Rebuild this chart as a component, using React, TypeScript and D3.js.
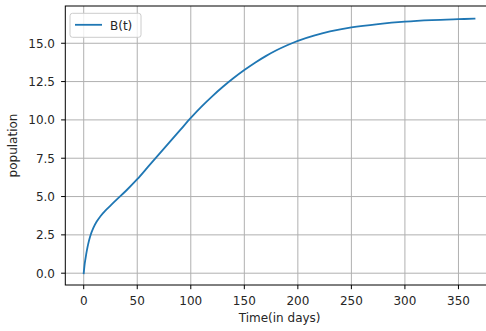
import React from "react";
import * as d3 from "d3";

const days: number[] = [0, 1, 2, 3, 4, 6, 9, 12, 16, 20, 25, 30, 40, 50, 60, 70, 80, 90, 100, 110, 120, 130, 140, 150, 160, 170, 180, 190, 200, 215, 230, 250, 275, 300, 325, 350, 365];
const population: number[] = [0, 0.65, 1.1, 1.5, 1.85, 2.4, 2.95, 3.35, 3.75, 4.07, 4.41, 4.75, 5.41, 6.13, 6.93, 7.73, 8.53, 9.33, 10.13, 10.87, 11.54, 12.16, 12.73, 13.25, 13.73, 14.16, 14.54, 14.87, 15.16, 15.5, 15.77, 16.03, 16.25, 16.41, 16.51, 16.57, 16.6];
const xTicks: number[] = [0, 50, 100, 150, 200, 250, 300, 350];
const yTicks: number[] = [0, 2.5, 5, 7.5, 10, 12.5, 15];
const seriesName = "B(t)";
const xLabel = "Time(in days)";
const yLabel = "population";

const W = 486;
const H = 331;
const left = 65.3;
const right = 494;
const top = 6;
const bottom = 285;
const font = "'DejaVu Sans', sans-serif";

export default function App() {
  const x = d3.scaleLinear().domain([-17.2, 383.2]).range([left, right]);
  const y = d3.scaleLinear().domain([-0.77, 17.43]).range([bottom, top]);
  const pts: [number, number][] = days.map((d, i) => [d, population[i]]);
  const line = d3
    .line<[number, number]>()
    .x((d) => x(d[0]))
    .y((d) => y(d[1]))
    .curve(d3.curveCatmullRom.alpha(0.5));

  return (
    <svg
      width={W}
      height={H}
      style={{ position: "absolute", left: 0, top: 0, background: "#fff" }}
      fontFamily={font}
    >
      <rect x={0} y={0} width={W} height={H} fill="#fff" />
      {xTicks.map((t) => (
        <line key={"gx" + t} x1={x(t)} x2={x(t)} y1={top} y2={bottom} stroke="#b0b0b0" strokeWidth={1} />
      ))}
      {yTicks.map((t) => (
        <line key={"gy" + t} x1={left} x2={right} y1={y(t)} y2={y(t)} stroke="#b0b0b0" strokeWidth={1} />
      ))}
      <path d={line(pts) || ""} fill="none" stroke="#1f77b4" strokeWidth={1.8} strokeLinecap="square" strokeLinejoin="round" />
      <rect x={left} y={top} width={right - left} height={bottom - top} fill="none" stroke="#000" strokeWidth={1} />
      {xTicks.map((t) => (
        <g key={"xt" + t}>
          <line x1={x(t)} x2={x(t)} y1={bottom} y2={bottom + 4.2} stroke="#000" strokeWidth={1} />
          <text x={x(t)} y={305} textAnchor="middle" fontSize={12} fill="#262626">
            {t}
          </text>
        </g>
      ))}
      {yTicks.map((t) => (
        <g key={"yt" + t}>
          <line x1={left - 4.2} x2={left} y1={y(t)} y2={y(t)} stroke="#000" strokeWidth={1} />
          <text x={55} y={y(t)} dy="0.36em" textAnchor="end" fontSize={12} fill="#262626">
            {t.toFixed(1)}
          </text>
        </g>
      ))}
      <text x={(left + right) / 2} y={322} textAnchor="middle" fontSize={12} fill="#262626">
        {xLabel}
      </text>
      <text
        transform={`translate(17,${(top + bottom) / 2}) rotate(-90)`}
        textAnchor="middle"
        fontSize={12}
        fill="#262626"
      >
        {yLabel}
      </text>
      <rect x={70} y={13.3} width={71} height={24} rx={2.5} fill="#fff" fillOpacity={0.8} stroke="#cccccc" strokeWidth={1} />
      <line x1={75} x2={102} y1={24.8} y2={24.8} stroke="#1f77b4" strokeWidth={1.8} />
      <text x={110} y={29.6} fontSize={12} fill="#262626">
        {seriesName}
      </text>
    </svg>
  );
}
